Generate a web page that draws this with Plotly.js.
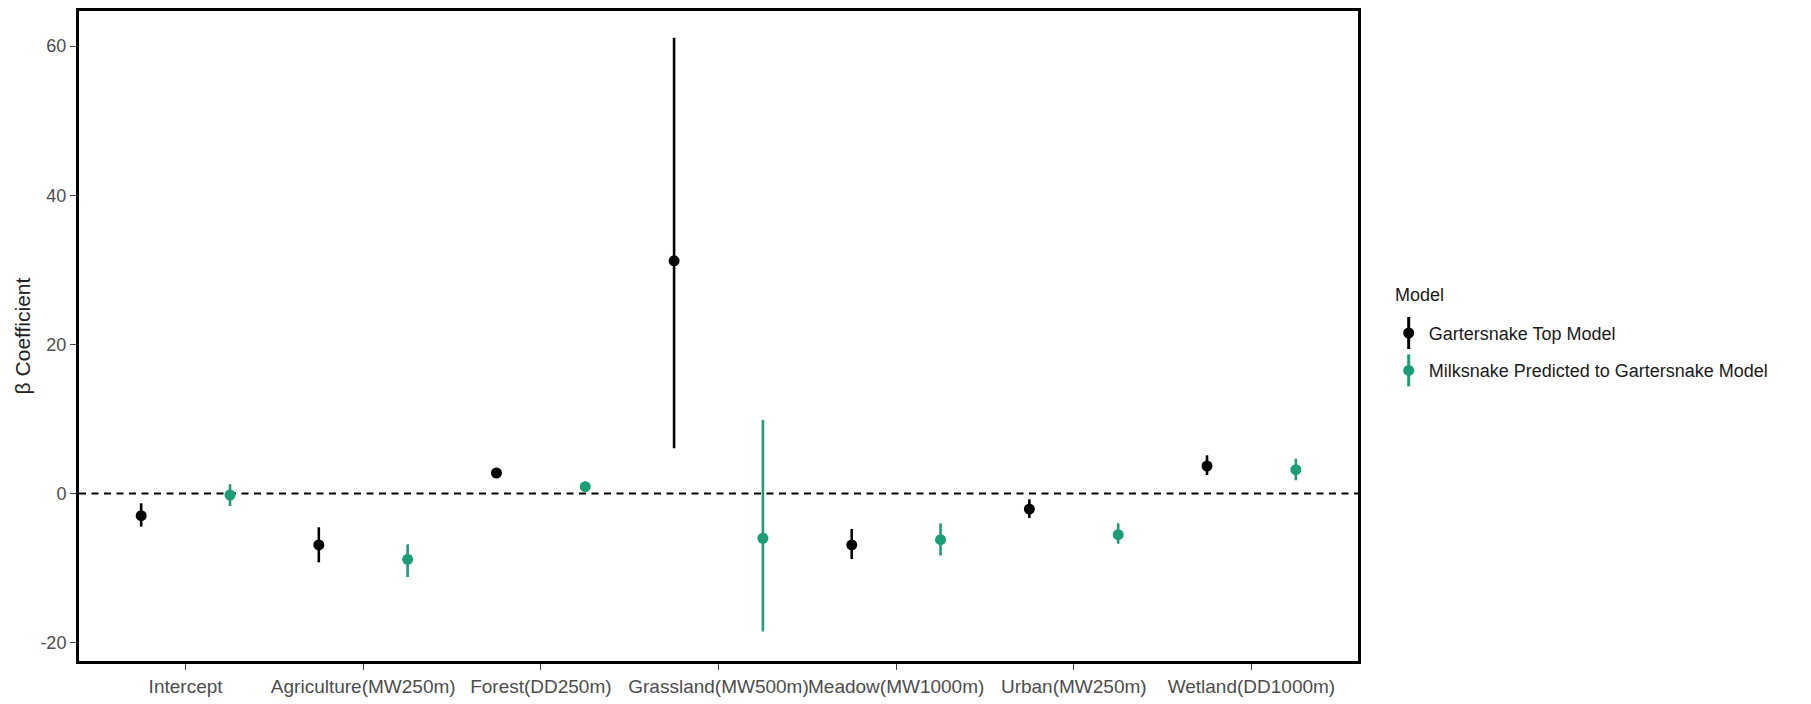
<!DOCTYPE html>
<html>
<head>
<meta charset="utf-8">
<script src="https://cdn.plot.ly/plotly-3.0.1.min.js"></script>
<style>html,body{margin:0;padding:0;background:#fff;}#chart{width:1811px;height:704px;}</style>
</head>
<body>
<div id="chart"></div>
<script>
// Categories (x-axis tick labels)
var categories = ['Intercept', 'Agriculture(MW250m)', 'Forest(DD250m)', 'Grassland(MW500m)', 'Meadow(MW1000m)', 'Urban(MW250m)', 'Wetland(DD1000m)'];

// Gartersnake Top Model: estimate, lower and upper bounds
var garterEst = [-2.97, -6.9, 2.75, 31.2, -6.9, -2.08, 3.69];
var garterLo  = [-4.45, -9.23, 2.2, 6.06, -8.78, -3.29, 2.48];
var garterHi  = [-1.31, -4.53, 3.3, 61.1, -4.76, -0.78, 5.12];

// Milksnake Predicted to Gartersnake Model
var milkEst = [-0.2, -8.83, 0.91, -6.0, -6.19, -5.52, 3.19];
var milkLo  = [-1.68, -11.2, 0.3, -18.5, -8.33, -6.73, 1.77];
var milkHi  = [1.23, -6.82, 1.6, 9.85, -4.0, -4.0, 4.67];

var seriesNames = ['Gartersnake Top Model', 'Milksnake Predicted to Gartersnake Model'];
var seriesColors = ['#000000', '#1b9e77'];
var legendTitle = 'Model';
var yTicks = [-20, 0, 20, 40, 60];

var DODGE = 0.25;
var catPos = categories.map(function (c, i) { return i + 1; });

function makeTrace(est, lo, hi, name, color, offset, group) {
  return {
    type: 'scatter',
    mode: 'markers',
    name: name,
    legendgroup: group,
    x: catPos.map(function (p) { return p + offset; }),
    y: est,
    marker: { color: color, size: 11 },
    error_y: {
      type: 'data',
      symmetric: false,
      array: hi.map(function (h, i) { return h - est[i]; }),
      arrayminus: lo.map(function (l, i) { return est[i] - l; }),
      color: color,
      thickness: 2.6,
      width: 0
    },
    hoverinfo: 'x+y'
  };
}

var traces = [
  makeTrace(garterEst, garterLo, garterHi, seriesNames[0], seriesColors[0], -DODGE, 'g1'),
  makeTrace(milkEst, milkLo, milkHi, seriesNames[1], seriesColors[1], DODGE, 'g2')
];

var fontFam = '"Liberation Sans", Arial, sans-serif';
var W = 1811, H = 704;
var M = { l: 79, r: 453, t: 11, b: 43 };
var plotW = W - M.l - M.r, plotH = H - M.t - M.b;
var LEGEND_FIRST_Y = 333;   // px centre of first legend item
var GLYPH_HALF = 16;        // half-length of legend vertical glyph line

var layout = {
  width: W,
  height: H,
  margin: M,
  paper_bgcolor: '#ffffff',
  plot_bgcolor: '#ffffff',
  font: { family: fontFam, size: 18, color: '#000' },
  showlegend: true,
  legend: {
    x: 1.024, xanchor: 'left',
    y: 0.55, yanchor: 'top',
    font: { family: fontFam, size: 18, color: '#1a1a1a' },
    tracegroupgap: 11,
    bgcolor: 'rgba(0,0,0,0)'
  },
  annotations: [{
    text: legendTitle,
    xref: 'paper', yref: 'paper',
    x: (1393 - M.l) / plotW, xanchor: 'left',
    y: (H - M.b - 295) / plotH, yanchor: 'middle',
    showarrow: false,
    font: { family: fontFam, size: 18, color: '#1a1a1a' }
  }],
  xaxis: {
    range: [0.4, 7.6],
    tickmode: 'array',
    tickvals: catPos,
    ticktext: categories,
    tickangle: 0,
    showgrid: false,
    zeroline: false,
    showline: true,
    linecolor: '#000',
    linewidth: 3,
    mirror: true,
    ticks: 'outside',
    ticklen: 6,
    tickwidth: 1,
    tickcolor: '#444',
    tickfont: { family: fontFam, size: 19, color: '#4d4d4d' },
    fixedrange: true
  },
  yaxis: {
    range: [-22.46, 64.7],
    tickmode: 'array',
    tickvals: yTicks,
    ticktext: yTicks.map(String),
    showgrid: false,
    zeroline: false,
    showline: true,
    linecolor: '#000',
    linewidth: 3,
    mirror: true,
    ticks: 'outside',
    ticklen: 6,
    tickwidth: 1,
    tickcolor: '#444',
    tickfont: { family: fontFam, size: 18, color: '#4d4d4d' },
    title: { text: 'β Coefficient', standoff: 5, font: { family: fontFam, size: 21, color: '#222' } },
    fixedrange: true
  },
  shapes: [{
    type: 'line', xref: 'paper', x0: 0, x1: 1, yref: 'y', y0: 0, y1: 0,
    line: { color: '#000', width: 1.8, dash: '7px,5.5px' },
    layer: 'below'
  }]
};

function legendPoints(gd) {
  var els = gd.querySelectorAll('.legend .traces .legendpoints path.scatterpts');
  var out = [];
  els.forEach(function (el) {
    var r = el.getBoundingClientRect();
    out.push({ x: r.left + r.width / 2, y: r.top + r.height / 2 });
  });
  return out;
}

Plotly.newPlot('chart', traces, layout, { displayModeBar: false, staticPlot: true })
  .then(function (gd) {
    var pts = legendPoints(gd);
    if (pts.length) {
      var dy = pts[0].y - LEGEND_FIRST_Y;
      return Plotly.relayout(gd, { 'legend.y': layout.legend.y + dy / plotH });
    }
    return gd;
  })
  .then(function (gd) {
    var pts = legendPoints(gd);
    var shapes = layout.shapes.slice();
    pts.forEach(function (p, i) {
      var xp = (p.x - M.l) / plotW;
      shapes.push({
        type: 'line', xref: 'paper', yref: 'paper',
        x0: xp, x1: xp,
        y0: (H - M.b - (p.y - GLYPH_HALF)) / plotH,
        y1: (H - M.b - (p.y + GLYPH_HALF)) / plotH,
        line: { color: seriesColors[i], width: 3 },
        layer: 'above'
      });
    });
    return Plotly.relayout(gd, { shapes: shapes });
  });
</script>
</body>
</html>
